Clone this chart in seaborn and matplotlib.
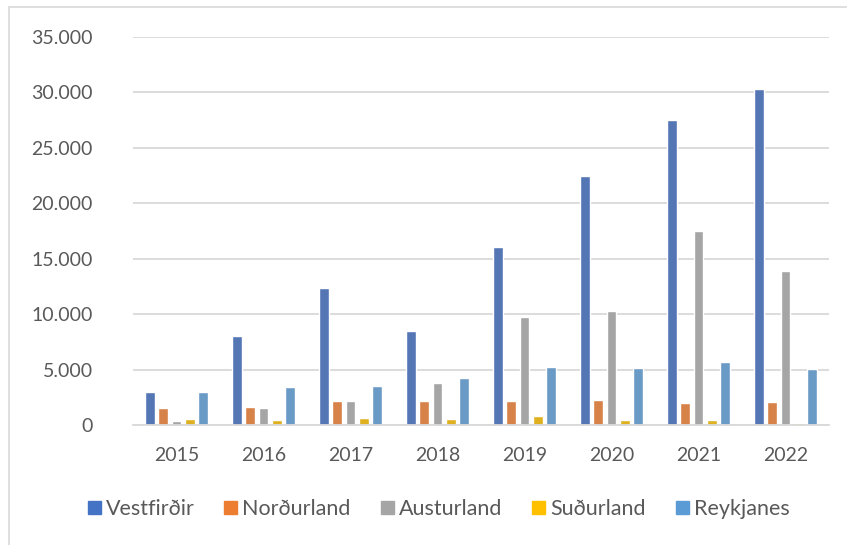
import pandas as pd
import matplotlib.pyplot as plt
import matplotlib.ticker as mticker
from matplotlib.patches import Rectangle
import seaborn as sns

# Values
years = ['2015', '2016', '2017', '2018', '2019', '2020', '2021', '2022']
regions = ['Vestfirðir', 'Norðurland', 'Austurland', 'Suðurland', 'Reykjanes']
vestfirdir = [2950, 8000, 12330, 8480, 16050, 22500, 27530, 30300]
nordurland = [1500, 1650, 2160, 2130, 2190, 2280, 1950, 2050]
austurland = [390, 1500, 2130, 3760, 9710, 10250, 17490, 13890]
sudurland = [540, 480, 630, 510, 810, 450, 450, 200]
reykjanes = [2950, 3400, 3540, 4210, 5230, 5140, 5710, 5020]
colors = ['#4472C4', '#ED7D31', '#A5A5A5', '#FFC000', '#5B9BD5']

series = [vestfirdir, nordurland, austurland, sudurland, reykjanes]
rows = []
for name, vals in zip(regions, series):
    for yr, v in zip(years, vals):
        rows.append({'year': yr, 'region': name, 'value': v})
df = pd.DataFrame(rows)

sns.set_style('white')
plt.rcParams['font.family'] = ['Lato', 'DejaVu Sans']

fig = plt.figure(figsize=(8.47, 5.45), dpi=100)
ax = fig.add_axes([133 / 847, 1 - 425 / 545, (829 - 133) / 847, (425 - 37) / 545])

sns.barplot(data=df, x='year', y='value', hue='region', palette=colors,
            order=years, hue_order=regions, width=0.766, gap=0.25,
            ax=ax, legend=False)

ax.set_ylim(0, 35000)
ax.set_xlim(-0.5, len(years) - 0.5)
ax.yaxis.set_major_locator(mticker.MultipleLocator(5000))
ax.yaxis.set_major_formatter(mticker.FuncFormatter(lambda v, p: f'{int(v):,}'.replace(',', '.')))
ax.grid(axis='y', color='#D9D9D9', linewidth=1.3)
ax.set_axisbelow(True)
for s in ['top', 'right', 'left']:
    ax.spines[s].set_visible(False)
ax.spines['bottom'].set_color('#D9D9D9')
ax.spines['bottom'].set_linewidth(1.3)
ax.tick_params(axis='both', length=0, labelsize=14, colors='#595959')
ax.tick_params(axis='x', pad=16)
ax.tick_params(axis='y', pad=29)
ax.set_xlabel('')
ax.set_ylabel('')

handles = [Rectangle((0, 0), 1, 1, color=c) for c in colors]
fig.legend(handles, regions, loc='center', bbox_to_anchor=(438.5 / 847, 1 - 509 / 545),
           ncol=5, frameon=False, fontsize=15.5, handlelength=0.6, handleheight=0.6,
           handletextpad=0.23, columnspacing=1.4, labelcolor='#595959')

fig.patches.append(Rectangle((9 / 847, -0.1), 1.2, 1 - 7 / 545 + 0.1, transform=fig.transFigure,
                             fill=False, edgecolor='#D9D9D9', linewidth=1.2))

fig.savefig('out.png', dpi=100)
